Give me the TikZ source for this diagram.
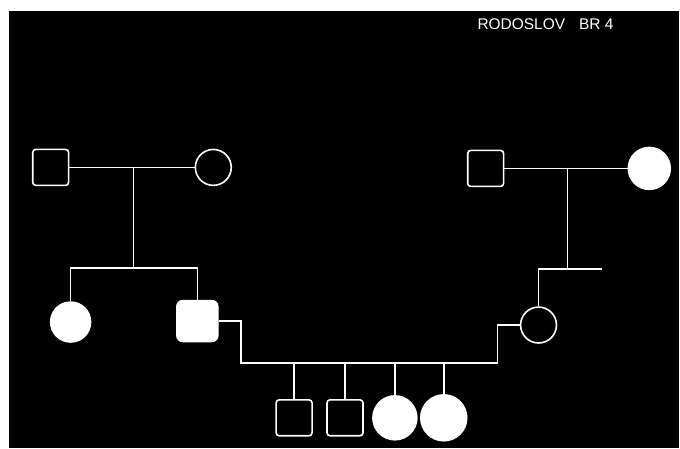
\documentclass[tikz,border=0pt]{standalone}
\usepackage{fontspec}
\setmainfont{Liberation Sans}
\begin{document}
\begin{tikzpicture}[x=1pt,y=-1pt,
  line width=1.6pt,
  every path/.style={draw=white},
  male/.style={draw=white,rectangle,rounded corners=3pt,minimum size=36pt,inner sep=0pt,line width=1.6pt},
  female/.style={draw=white,circle,minimum size=36pt,inner sep=0pt,line width=1.6pt},
  aff/.style={fill=white},
  lbl/.style={text=white,font=\fontsize{15.5}{18}\selectfont,inner sep=0pt}]
\useasboundingbox (0,0) rectangle (680,448);
\fill[white,draw=none] (0,0) rectangle (680,448);
\fill[black,draw=none] (8,10) rectangle (680,448);
\node[lbl] (title) at (546,23) {RODOSLOV\hspace{14pt}BR 4};
% left grandparents
\node[male] (lf) at (50,167) {};
\node[female] (lm) at (213,167) {};
% left children
\node[female,aff,minimum size=40pt] (ld) at (70,322) {};
\node[male,aff,minimum size=41pt,rounded corners=6pt] (ls) at (197,321) {};
% right grandparents
\node[male] (rf) at (486,168) {};
\node[female,aff,minimum size=42pt] (rm) at (650,168) {};
\node[female] (rd) at (539,325) {};
% grandchildren
\node[male] (c1) at (294,418) {};
\node[male] (c2) at (345,418) {};
\node[female,aff,minimum size=44pt] (c3) at (395,418) {};
\node[female,aff,minimum size=46pt] (c4) at (444,418) {};
% coordinates
\coordinate (lmid) at (133,167);
\coordinate (lsib) at (133,268);
\coordinate (rmid) at (568,168);
\coordinate (rsib) at (568,269);
\coordinate (rend) at (603,269);
\coordinate (cl) at (241,363);
\coordinate (cr) at (498,363);
% connectors
\draw (lf.east) -- (lm.west);
\draw (lmid) -- (lsib);
\draw (ld.north) |- (lsib) -| (ls.north);
\draw (rf.east) -- (rm.west);
\draw (rmid) -- (rsib);
\draw (rd.north) |- (rend);
\draw (ls.east) -| (cl) -- (cr) |- (rd.west);
\draw (c1.north) -- (c1.north |- cl);
\draw (c2.north) -- (c2.north |- cl);
\draw (c3.north) -- (c3.north |- cl);
\draw (c4.north) -- (c4.north |- cl);
\end{tikzpicture}
\end{document}
